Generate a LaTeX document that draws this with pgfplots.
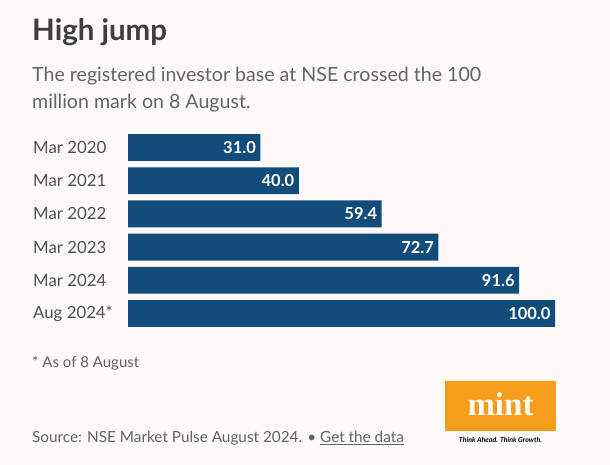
\documentclass[border=0pt]{standalone}
\usepackage{fontspec}
\setmainfont{Lato}
\newfontfamily\logofont{Liberation Serif}
\usepackage{pgfplots}
\pgfplotsset{compat=1.18}
\definecolor{bgcol}{RGB}{253,249,249}
\definecolor{barblue}{RGB}{18,76,122}
\definecolor{titlecol}{RGB}{62,62,62}
\definecolor{subcol}{RGB}{100,100,100}
\definecolor{labcol}{RGB}{80,80,80}
\definecolor{mintorange}{RGB}{246,158,28}
\begin{document}
\begin{tikzpicture}[x=1pt,y=1pt]
\fill[bgcol] (0,0) rectangle (610,465);
% headings
\node[anchor=base west, inner sep=0, text=titlecol,
      font=\fontsize{29.5}{32}\selectfont\bfseries] at (32,424) {High jump};
\node[anchor=base west, inner sep=0, text=subcol,
      font=\fontsize{19.6}{24}\selectfont] at (32,383)
      {The registered investor base at NSE crossed the 100};
\node[anchor=base west, inner sep=0, text=subcol,
      font=\fontsize{19.6}{24}\selectfont] at (32,356)
      {million mark on 8 August.};

\begin{axis}[
  at={(128pt,134.9pt)}, anchor=south west,
  scale only axis, width=427pt, height=199.2pt,
  xbar, bar width=0.81, bar shift=0pt,
  xmin=0, xmax=100, ymin=-0.5, ymax=5.5, y dir=reverse,
  axis line style={draw=none},
  xtick=\empty, ytick={0,...,5},
  major tick length=0pt,
  yticklabels={Mar 2020, Mar 2021, Mar 2022, Mar 2023, Mar 2024, Aug 2024*},
  yticklabel style={anchor=west, xshift=-95pt, inner sep=0pt, text=labcol,
    font=\fontsize{16.8}{18}\selectfont},
  point meta=x,
  nodes near coords,
  every node near coord/.append style={anchor=east, xshift=-1pt, text=white,
    font=\fontsize{16.5}{18}\selectfont\bfseries,
    /pgf/number format/.cd, fixed, fixed zerofill, precision=1,
    assume math mode=true},
]
\addplot[fill=barblue, draw=none] coordinates {
  (31.0,0) (40.0,1) (59.4,2) (72.7,3) (91.6,4) (100.0,5)
};
\end{axis}

% notes
\node[anchor=base west, inner sep=0, text=subcol,
      font=\fontsize{15}{17}\selectfont] at (32,97) {* As of 8 August};
\node[anchor=base west, inner sep=0, text=subcol,
      font=\fontsize{15.3}{17}\selectfont] at (32,22)
      {Source: NSE Market Pulse August 2024. \textbullet\ \underline{Get the data}};
% logo
\fill[mintorange] (445,34) rectangle (556,84);
\node[text=white, font=\logofont\fontsize{33}{33}\selectfont\bfseries] at (500.5,61) {mint};
\node[font=\fontsize{7}{8}\selectfont\bfseries\itshape] at (500.5,25) {Think Ahead. Think Growth.};
\end{tikzpicture}
\end{document}
